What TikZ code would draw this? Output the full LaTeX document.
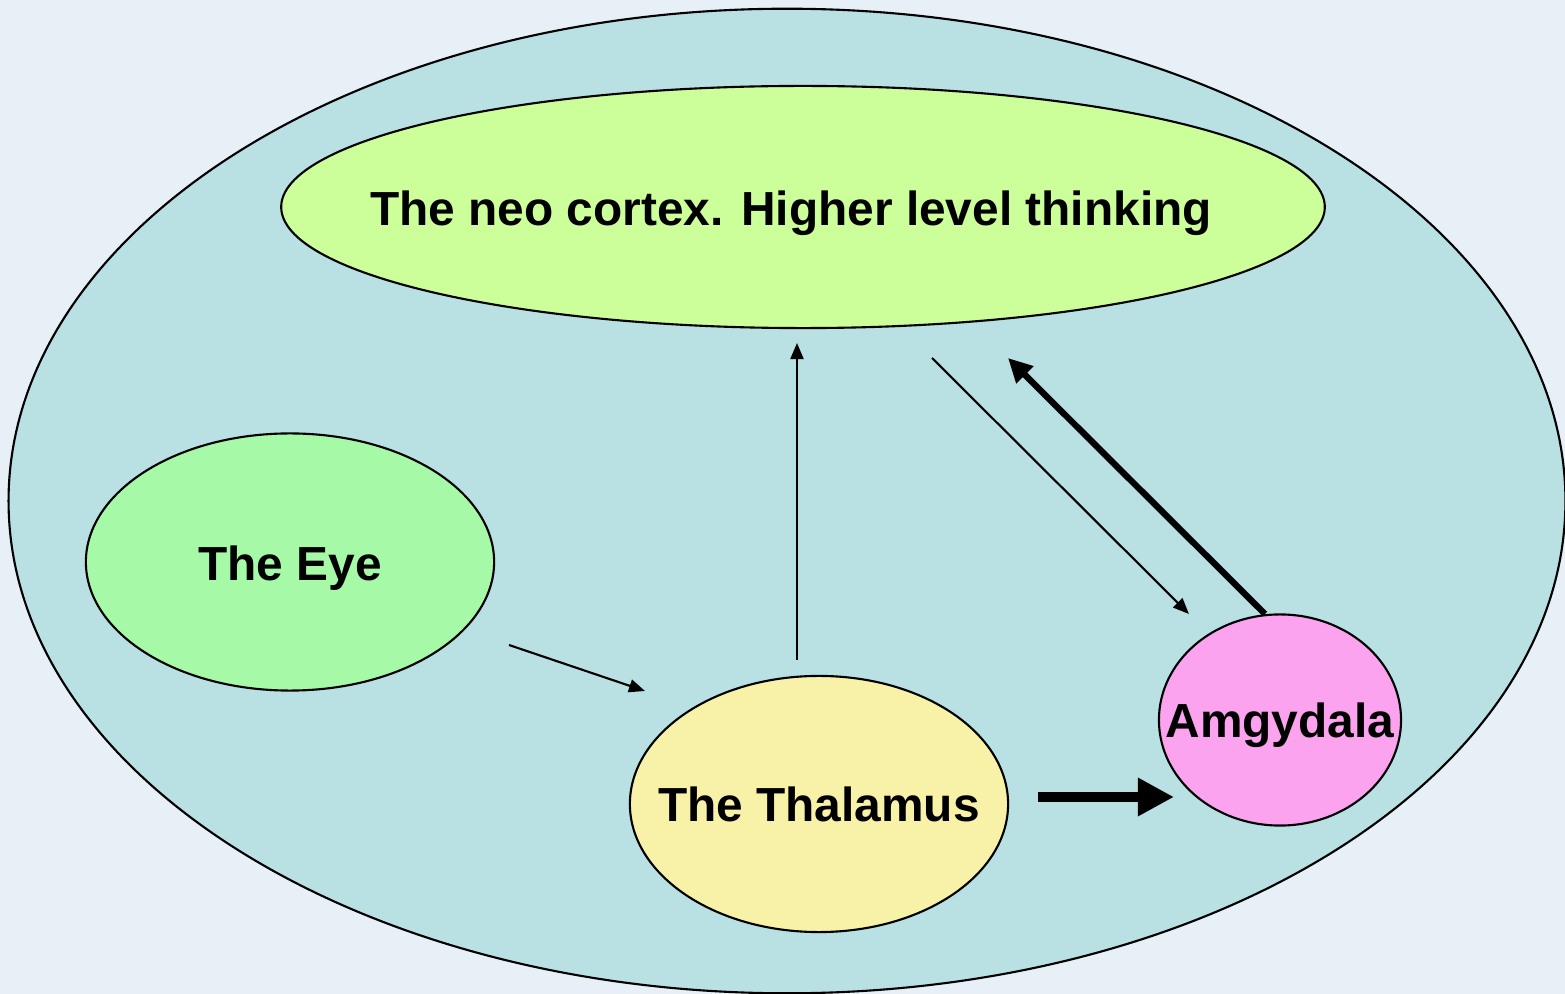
\documentclass[tikz,border=0pt]{standalone}
\usepackage{fontspec}
\setmainfont{Liberation Sans}
\usepackage{tikz}
\usetikzlibrary{arrows.meta,shapes.geometric}
\definecolor{backdrop}{RGB}{232,240,247}
\definecolor{brainfill}{RGB}{185,224,227}
\definecolor{cortexfill}{RGB}{204,255,153}
\definecolor{eyefill}{RGB}{166,249,166}
\definecolor{thalfill}{RGB}{248,242,168}
\definecolor{amygfill}{RGB}{251,163,238}
\tikzset{
  region/.style={draw, ellipse, line width=0.6pt, inner sep=0pt},
  lbl/.style={font=\fontsize{13.6}{16}\selectfont\bfseries},
  thinarrow/.style={-{Triangle[length=0.16cm,width=0.13cm]}, line width=0.6pt},
  thickarrow/.style={-{Triangle[length=0.24cm,width=0.23cm]}, line width=1.8pt},
  fatarrow/.style={-{Triangle[length=0.36cm,width=0.36cm]}, line width=3pt}
}
\begin{document}
\begin{tikzpicture}[x=0.01cm,y=-0.01cm]
  \useasboundingbox[fill=backdrop] (0,0) rectangle (1565,994);
  \node[region,fill=brainfill,minimum width=15.56cm,minimum height=9.84cm] (brain) at (787,501) {};
  \node[region,fill=cortexfill,minimum width=10.43cm,minimum height=2.42cm,
        label={[lbl,xshift=-0.12cm,yshift=-0.06cm]center:The neo cortex. Higher level thinking}] (cortex) at (803,207) {};
  \node[region,fill=eyefill,minimum width=4.08cm,minimum height=2.57cm,
        label={[lbl,yshift=-0.06cm]center:The Eye}] (eye) at (290,562) {};
  \node[region,fill=thalfill,minimum width=3.78cm,minimum height=2.56cm,
        label={[lbl]center:The Thalamus}] (thalamus) at (819,804) {};
  \node[region,fill=amygfill,minimum width=2.42cm,minimum height=2.11cm,
        label={[lbl,yshift=-0.05cm]center:Amgydala}] (amygdala) at (1280,720) {};
  % arrow ends
  \coordinate (eyeout) at (509,645);
  \coordinate (thalin) at (645,691);
  \coordinate (thalup) at (797,660);
  \coordinate (cortexin) at (797,343);
  \coordinate (cortexout) at (932,358);
  \coordinate (amygin) at (1189,614);
  \coordinate (amygout) at (1265,614);
  \coordinate (cortexback) at (1008,358);
  \coordinate (thalright) at (1038,797);
  \coordinate (amygleft) at (1174,797);
  \draw[thinarrow] (eyeout) -- (thalin);
  \draw[thinarrow] (thalup) -- (cortexin);
  \draw[thinarrow] (cortexout) -- (amygin);
  \draw[thickarrow] (amygout) -- (cortexback);
  \draw[fatarrow] (thalright) -- (amygleft);
\end{tikzpicture}
\end{document}
